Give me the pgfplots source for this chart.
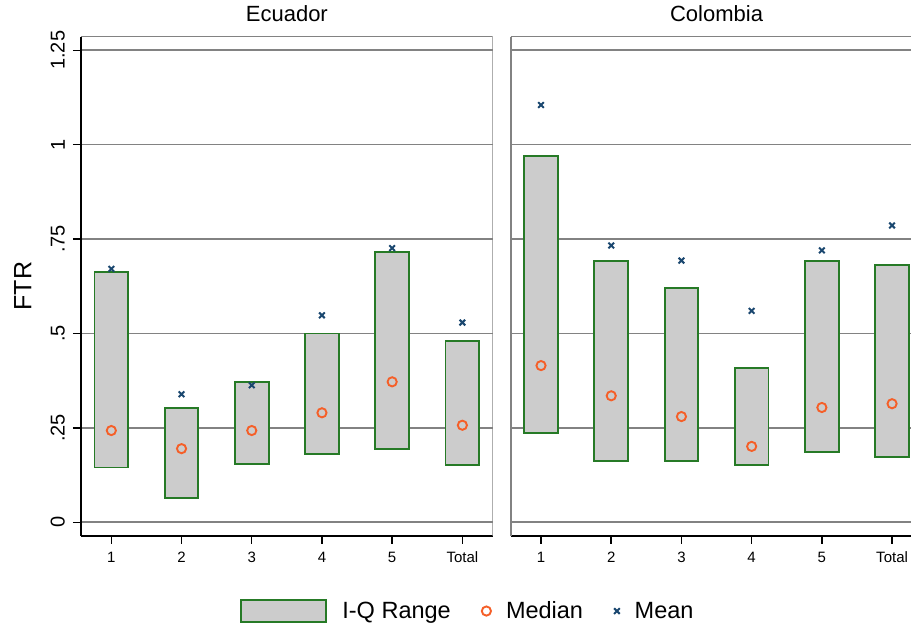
\documentclass[border=0pt]{standalone}
\usepackage{fontspec}
\setmainfont{Liberation Sans}
\usepackage{pgfplots}
\usepackage{pgfplotstable}
\pgfplotsset{compat=1.18}
\usepgfplotslibrary{statistics}

\definecolor{iqgray}{RGB}{204,204,204}
\definecolor{iqgreen}{RGB}{38,122,38}
\definecolor{medorange}{RGB}{245,95,40}
\definecolor{meannavy}{RGB}{26,71,111}
\definecolor{gridgray}{RGB}{130,130,130}

% median and mean by group
\pgfplotstableread{
x med mean
1 0.243 0.671
2 0.195 0.339
3 0.243 0.363
4 0.290 0.548
5 0.372 0.726
6 0.257 0.529
}\ecuador
\pgfplotstableread{
x med mean
1 0.415 1.105
2 0.335 0.733
3 0.280 0.693
4 0.201 0.560
5 0.304 0.720
6 0.314 0.786
}\colombia

% interquartile box: position, lower quartile, upper quartile
\newcommand{\iqbox}[3]{%
  \addplot[forget plot, fill=iqgray, draw=iqgreen, line width=1.9pt,
    boxplot/draw direction=y, boxplot/box extend=0.48,
    boxplot/draw/median/.code={},
    boxplot/draw/lower whisker/.code={},
    boxplot/draw/upper whisker/.code={},
    boxplot prepared={draw position=#1, lower whisker=#2, lower quartile=#2,
      median=#2, upper quartile=#3, upper whisker=#3}] coordinates {};}

\pgfplotsset{
  panel/.style={
    anchor=south west, scale only axis,
    width=411.7pt, height=499pt,
    xmin=0.568, xmax=6.432, ymin=-0.0355, ymax=1.286,
    axis x line*=bottom, axis y line*=left,
    axis line style={-, line width=1.8pt},
    x axis line style={black},
    xtick={1,...,6}, xticklabels={1,2,3,4,5,Total},
    ytick={0,0.25,0.5,0.75,1,1.25},
    tick align=outside, major tick length=8pt,
    tick style={black, line width=1.5pt},
    ymajorgrids, grid style={gridgray, line width=1.6pt},
    xticklabel style={font=\fontsize{15}{18}\selectfont, inner sep=0pt},
    xticklabel shift=8pt,
    title style={font=\fontsize{22}{26}\selectfont, at={(0.5,1)}, anchor=south, inner sep=0pt, yshift=8.5pt},
  },
  medmark/.style={only marks, mark=o, medorange, mark size=4.6pt, line width=1.9pt},
  meanmark/.style={only marks, mark=x, meannavy, mark size=4pt, line width=2pt},
}

\begin{document}
\begin{tikzpicture}
\path[use as bounding box] (0,0) rectangle (911pt,628pt);

\begin{axis}[panel, at={(81pt,92.3pt)},
    title={Ecuador},
    y axis line style={black},
    yticklabels={0,.25,.5,.75,1,1.25},
    yticklabel style={font=\fontsize{20}{24}\selectfont, rotate=90, anchor=south, inner sep=0pt},
    yticklabel shift=8pt,
    ylabel={FTR},
    ylabel style={font=\fontsize{25}{28}\selectfont, at={(axis description cs:-0.12,0.5)}, anchor=south, inner sep=0pt},
    legend columns=3,
    legend style={draw=none, fill=none, at={(0.94,-0.151)}, anchor=center,
      font=\fontsize{23.5}{26}\selectfont,
      /tikz/every odd column/.append style={column sep=13pt},
      /tikz/every even column/.append style={column sep=29pt}},
  ]
  \iqbox{1}{0.145}{0.662}
  \iqbox{2}{0.064}{0.303}
  \iqbox{3}{0.155}{0.371}
  \iqbox{4}{0.180}{0.500}
  \iqbox{5}{0.194}{0.715}
  \iqbox{6}{0.151}{0.480}
  \addlegendimage{legend image code/.code={\draw[fill=iqgray, draw=iqgreen, line width=1.9pt] (0pt,-11pt) rectangle (85pt,11pt);}}
  \addlegendentry{I-Q Range}
  \addplot[medmark] table[x=x, y=med] {\ecuador};
  \addlegendentry{Median}
  \addplot[meanmark] table[x=x, y=mean] {\ecuador};
  \addlegendentry{Mean}
  \draw[gridgray, line width=1.6pt] (rel axis cs:0,1) -- (rel axis cs:1,1) -- (rel axis cs:1,0);
\end{axis}

\begin{axis}[panel, at={(510.7pt,92.3pt)},
    title={Colombia},
    y axis line style={gridgray, line width=1.6pt},
    yticklabels={}, ytick style={draw=none},
  ]
  \iqbox{1}{0.237}{0.971}
  \iqbox{2}{0.162}{0.692}
  \iqbox{3}{0.162}{0.621}
  \iqbox{4}{0.151}{0.409}
  \iqbox{5}{0.187}{0.693}
  \iqbox{6}{0.174}{0.681}
  \addplot[medmark] table[x=x, y=med] {\colombia};
  \addplot[meanmark] table[x=x, y=mean] {\colombia};
  \draw[gridgray, line width=1.6pt] (rel axis cs:0,1) -- (rel axis cs:1,1) -- (rel axis cs:1,0);
\end{axis}
\end{tikzpicture}
\end{document}
